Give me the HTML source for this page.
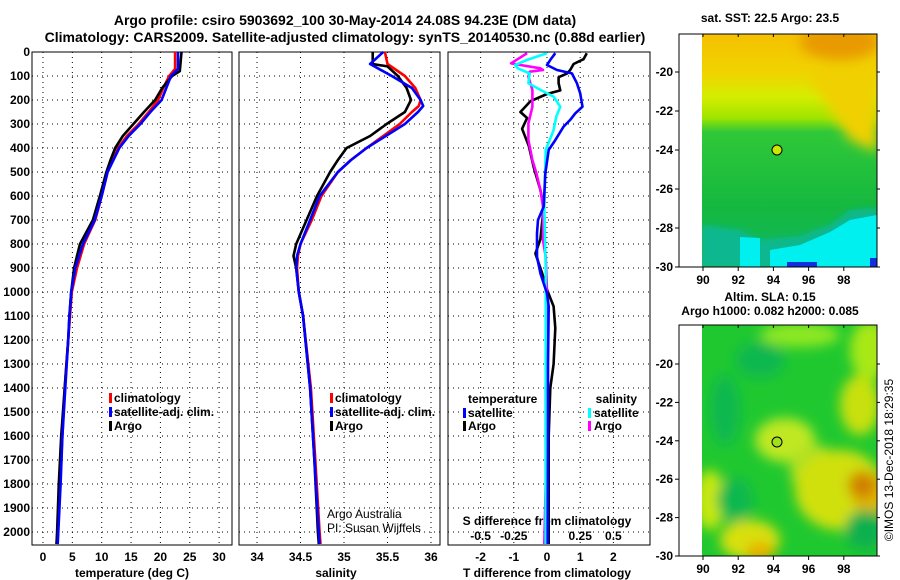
<!DOCTYPE html>
<html><head><meta charset="utf-8"><style>
html,body{margin:0;padding:0;background:#fff;width:900px;height:580px;overflow:hidden;}
svg{display:block;font-family:"Liberation Sans",sans-serif;font-weight:bold;}
</style></head><body>
<svg id="fig" width="900" height="580" viewBox="0 0 900 580">
<defs>
<filter id="blur6" x="-50%" y="-50%" width="200%" height="200%"><feGaussianBlur stdDeviation="6"/></filter>
<filter id="blur3" x="-50%" y="-50%" width="200%" height="200%"><feGaussianBlur stdDeviation="3"/></filter>
<linearGradient id="sstg" x1="0" y1="0" x2="0" y2="1">
<stop offset="0" stop-color="#f5c000"/><stop offset="0.17" stop-color="#f0d400"/><stop offset="0.27" stop-color="#d4ee00"/>
<stop offset="0.36" stop-color="#a0e400"/><stop offset="0.42" stop-color="#30c838"/><stop offset="0.75" stop-color="#14b840"/>
<stop offset="1" stop-color="#10b860"/></linearGradient>
<clipPath id="clip1"><rect x="702" y="34" width="175" height="233"/></clipPath>
<clipPath id="clip2"><rect x="702" y="325" width="175" height="231"/></clipPath>
</defs>
<text x="345" y="25" font-size="14" text-anchor="middle">Argo profile: csiro 5903692_100 30-May-2014 24.08S 94.23E (DM data)</text>
<text x="345" y="42" font-size="14" text-anchor="middle">Climatology: CARS2009. Satellite-adjusted climatology: synTS_20140530.nc (0.88d earlier)</text>
<g id="panels"></g>

<!-- SST map -->
<g>
<text x="770" y="22" font-size="12" text-anchor="middle">sat. SST: 22.5 Argo: 23.5</text>
<g clip-path="url(#clip1)">
<rect x="702" y="34" width="175" height="233" fill="url(#sstg)"/>
<polygon points="820,34 877,34 877,152 850,140 830,110 810,80" fill="#f0d000" filter="url(#blur6)"/>
<ellipse cx="840" cy="42" rx="40" ry="18" fill="#e89a00" filter="url(#blur6)"/>
<polygon points="702,225 740,230 760,240 800,236 830,225 850,210 877,208 877,267 702,267" fill="#10b890" filter="url(#blur3)"/>
<polygon points="740,237 760,238 760,267 740,267" fill="#00f0f0"/>
<polygon points="770,250 800,245 830,232 850,220 877,215 877,267 770,267" fill="#00f0f0"/>
<rect x="787" y="262" width="30" height="5" fill="#1030e0"/>
<rect x="870" y="258" width="7" height="9" fill="#1030e0"/>
</g>
<rect x="679" y="34" width="198" height="233" fill="none" stroke="#000" stroke-width="1"/>
<circle cx="777" cy="150" r="5" fill="#c8e800" stroke="#000"/>
<g id="map1ticks" font-size="12"></g>
</g>

<!-- SLA map -->
<g>
<text x="770" y="301" font-size="12" text-anchor="middle">Altim. SLA: 0.15</text>
<text x="770" y="315" font-size="12" text-anchor="middle">Argo h1000: 0.082 h2000: 0.085</text>
<g clip-path="url(#clip2)">
<rect x="702" y="325" width="175" height="231" fill="#20c830"/>
<g filter="url(#blur6)">
<ellipse cx="800" cy="335" rx="40" ry="12" fill="#90e820"/>
<ellipse cx="870" cy="350" rx="20" ry="30" fill="#a8e818"/>
<ellipse cx="785" cy="440" rx="30" ry="22" fill="#c0e820"/>
<ellipse cx="815" cy="470" rx="25" ry="25" fill="#b0e020"/>
<ellipse cx="840" cy="490" rx="45" ry="40" fill="#d0e010"/>
<ellipse cx="860" cy="405" rx="20" ry="30" fill="#c8e010"/>
<ellipse cx="870" cy="495" rx="18" ry="22" fill="#e0b800"/>
<ellipse cx="862" cy="485" rx="14" ry="14" fill="#d08000"/>
<ellipse cx="710" cy="500" rx="15" ry="30" fill="#c8e810"/>
<ellipse cx="750" cy="540" rx="30" ry="20" fill="#d8e010"/>
<ellipse cx="760" cy="552" rx="14" ry="10" fill="#e8b000"/>
<ellipse cx="725" cy="410" rx="15" ry="35" fill="#10b850"/>
<ellipse cx="760" cy="360" rx="25" ry="18" fill="#10b850"/>
<ellipse cx="735" cy="500" rx="18" ry="22" fill="#10b850"/>
<ellipse cx="865" cy="530" rx="20" ry="20" fill="#10b050"/>
</g>
</g>
<rect x="679" y="325" width="198" height="231" fill="none" stroke="#000" stroke-width="1"/>
<circle cx="777" cy="442" r="5" fill="#a0e020" stroke="#000"/>
<g id="map2ticks" font-size="12"></g>
</g>
<text transform="translate(893,460) rotate(-90)" font-size="12" font-weight="normal" text-anchor="middle">©IMOS 13-Dec-2018 18:29:35</text>
</svg>
<script>
// ---------- data ----------
const tDepthArgo = [0,80,100,150,200,250,300,350,400,450,500,600,700,800,850,900,1000,1100,1200,1400,1600,1800,2000,2050];
const tArgo      = [23.6,23.3,22,20.3,19.1,17.2,15.4,13.6,12.3,11.5,10.8,9.7,8.5,6.3,5.8,5.3,4.8,4.5,4.3,3.7,3.1,2.7,2.4,2.3];
const tDepthClim = [0,70,100,150,200,250,300,350,400,500,600,700,800,900,1000,1100,1200,1400,1600,1800,2000,2050];
const tClim      = [22.5,22.5,21.5,20.5,19.6,18,16.3,14.3,12.8,11,10,8.9,7,5.8,4.9,4.6,4.3,3.7,3.3,2.9,2.5,2.3];
const tSat       = [23,23,21.8,21,20.2,18.3,16.6,14.6,13,11,10,8.8,6.8,5.5,4.8,4.5,4.3,3.8,3.3,3.0,2.6,2.5];
const sDepthArgo = [0,50,60,100,150,200,250,300,350,400,450,500,600,700,800,850,900,1000,1100,1400,1700,2000,2050];
const sArgo      = [35.33,35.33,35.5,35.62,35.72,35.77,35.7,35.49,35.3,35.03,34.93,34.84,34.69,34.57,34.45,34.42,34.45,34.48,34.53,34.61,34.66,34.7,34.71];
const sDepthClim = [0,50,100,150,200,225,250,300,350,400,450,500,600,700,800,850,900,1000,1100,1400,1700,2000,2050];
const sClim      = [35.47,35.5,35.7,35.82,35.88,35.86,35.78,35.64,35.45,35.26,35.08,34.93,34.74,34.63,34.5,34.47,34.46,34.48,34.53,34.62,34.67,34.72,34.73];
const sSat       = [35.45,35.3,35.55,35.78,35.88,35.91,35.85,35.7,35.48,35.26,35.08,34.93,34.72,34.61,34.5,34.46,34.45,34.48,34.53,34.61,34.66,34.71,34.72];
const dDepthArgoT = [5,30,50,75,90,105,130,160,175,205,250,275,320,390,480,575,645,780,840,920,990,1060,1150,1300,1400,1600,1800,2000,2050];
const dTArgo      = [1.2,1.1,0.8,0.7,0.6,0.35,0.35,0.4,0,-0.5,-0.8,-0.6,-0.75,-0.55,-0.4,-0.2,-0.1,-0.2,-0.35,-0.15,0,0.2,0.25,0.2,0.1,0.05,0.05,0.05,0.05];
const dDepthSatT  = [5,33,54,75,89,130,172,228,256,283,311,367,408,506,644,700,756,853,922,1006,1061,1300,1600,2000,2050];
const dTSat       = [0.25,0.1,0,0.3,0.75,0.9,1.0,1.07,0.85,0.7,0.5,0.25,0.05,-0.05,-0.1,-0.27,-0.3,-0.3,-0.2,0,0.05,0.03,0.03,0.02,0.02];
const dDepthSatS  = [5,33,54,68,89,130,158,186,228,269,325,367,408,644,900,1300,1700,2050];
const dSSat       = [0,-0.15,-0.24,-0.22,-0.13,-0.14,-0.05,0.05,0.1,0.07,0.05,0.02,-0.01,-0.02,-0.01,-0.01,-0.01,-0.01];
const dDepthArgoS = [5,47,54,68,75,82,103,158,228,297,367,450,506,575,644,783,853,1000,1400,1800,2050];
const dSArgo      = [-0.15,-0.27,-0.2,-0.05,-0.03,-0.13,-0.14,-0.11,-0.11,-0.14,-0.14,-0.11,-0.08,-0.05,-0.03,-0.03,-0.01,0,-0.01,-0.01,-0.02];
const depthTicks = [0,100,200,300,400,500,600,700,800,900,1000,1100,1200,1300,1400,1500,1600,1700,1800,1900,2000];
const tempTicks = [0,5,10,15,20,25,30];
const salTicks = ['34','34.5','35','35.5','36'];
const dTTicks = [-2,-1,0,1,2];
const dSTickLabels = ['-0.5','-0.25','0','0.25','0.5'];
const dSTicks = [-0.5,-0.25,0,0.25,0.5];
const lonTicks = [90,92,94,96,98];
const lat1Ticks = [-20,-22,-24,-26,-28,-30];

// ---------- axes ----------
const TOP=52, BOT=545;
const yD = d => TOP + d*0.24;
const xT = t => 43 + t*5.87;
const xS = s => 257 + (s-34)*87;
const xdT = v => 547 + v*33.2;
const xdS = v => 547 + v*132.8;
const NS='http://www.w3.org/2000/svg';
const panels=document.getElementById('panels');
function el(tag, attrs, parent){const e=document.createElementNS(NS,tag);for(const k in attrs)e.setAttribute(k,attrs[k]);(parent||panels).appendChild(e);return e;}
function txt(x,y,s,size,anchor,parent){const e=el('text',{x:x,y:y,'font-size':size,'text-anchor':anchor||'middle'},parent);e.textContent=s;return e;}

const frames=[[32,232],[239,440],[448,650]];
const vgrids=[tempTicks.map(xT), salTicks.map(s=>xS(+s)), dTTicks.map(xdT)];
frames.forEach((f,i)=>{
  const g=el('g',{});
  
  
  depthTicks.forEach(d=>{ if(d>0) el('line',{x1:f[0],x2:f[1],y1:yD(d),y2:yD(d),stroke:'#000','stroke-width':1,'stroke-dasharray':'1,4'},g); });
  vgrids[i].forEach(x=>{ el('line',{x1:x,x2:x,y1:TOP,y2:BOT,stroke:'#000','stroke-width':1,'stroke-dasharray':'1,4'},g); });
  el('rect',{x:f[0],y:TOP,width:f[1]-f[0],height:BOT-TOP,fill:'none',stroke:'#000','stroke-width':1},g);
});
depthTicks.forEach(d=>{
  const t=txt(30,yD(d)+4,String(d),12,'end');
  
  
});
tempTicks.forEach(v=>{const t=txt(xT(v),561,String(v),12);
  
  });
salTicks.forEach(v=>{const t=txt(xS(+v),561,v,12);
  
  });
dTTicks.forEach(v=>{const t=txt(xdT(v),561,String(v),12);
  
  });
dSTicks.forEach((v,i)=>{const t=txt(xdS(v),540,dSTickLabels[i],12);
  
  });
let a;
a=txt(132,577,'temperature (deg C)',12);


a=txt(336,577,'salinity',12);


a=txt(547,577,'T difference from climatology',12);


a=txt(547,525,'S difference from climatology',12);


a=el('text',{x:327,y:518,'font-size':12,'font-weight':'normal'});a.textContent='Argo Australia';


a=el('text',{x:327,y:532,'font-size':12,'font-weight':'normal'});a.textContent='PI: Susan Wijffels';



function line(depths, vals, xf, color, name){
  const pts=depths.map((d,i)=>xf(vals[i]).toFixed(1)+','+yD(d).toFixed(1)).join(' ');
  const p=el('polyline',{points:pts,fill:'none',stroke:color,'stroke-width':2.6,'stroke-linejoin':'round'});
  
  
}
line(tDepthClim,tClim,xT,'#ff0000','temp-climatology-line');
line(tDepthArgo,tArgo,xT,'#000000','temp-argo-line');
line(tDepthClim,tSat,xT,'#0000ff','temp-satellite-line');
line(sDepthClim,sClim,xS,'#ff0000','sal-climatology-line');
line(sDepthArgo,sArgo,xS,'#000000','sal-argo-line');
line(sDepthClim,sSat,xS,'#0000ff','sal-satellite-line');
line(dDepthArgoT,dTArgo,xdT,'#000000','tdiff-argo-line');
line(dDepthArgoS,dSArgo,xdS,'#ff00ff','sdiff-argo-line');
line(dDepthSatS,dSSat,xdS,'#00ffff','sdiff-satellite-line');
line(dDepthSatT,dTSat,xdT,'#0000ff','tdiff-satellite-line');

function legend(x,y,color,label){
  const m=el('rect',{x:x-5,y:y-9,width:3,height:10,fill:color});
  
  
  const t=el('text',{x:x,y:y,'font-size':12,'text-anchor':'start'});
  t.textContent=label;
  
  
}
legend(114,402,'#ff0000','climatology');
legend(114,416,'#0000ff','satellite-adj. clim.');
legend(114,430,'#000000','Argo');
legend(335,402,'#ff0000','climatology');
legend(335,416,'#0000ff','satellite-adj. clim.');
legend(335,430,'#000000','Argo');
a=txt(468,403,'temperature',12,'start');


a=txt(637,403,'salinity',12,'end');


legend(468,417,'#0000ff','satellite');
legend(468,430,'#000000','Argo');
{const m=el('rect',{x:588,y:408,width:3,height:10,fill:'#00ffff'});
 const t=txt(594,417,'satellite',12,'start');
 const m2=el('rect',{x:588,y:421,width:3,height:10,fill:'#ff00ff'});
 const t2=txt(594,430,'Argo',12,'start');}

function mapTicks(gid, y0, y1, latY){
  const g=document.getElementById(gid);
  lonTicks.forEach(v=>{const x=703+(v-90)*17.6;
    el('line',{x1:x,x2:x,y1:y1,y2:y1+4,stroke:'#000'},g);
    el('line',{x1:x,x2:x,y1:y0,y2:y0+3,stroke:'#000'},g);
    const t=txt(x,y1+17,String(v),12,'middle',g);
    
    });
  lat1Ticks.forEach(v=>{const y=latY(v);
    el('line',{x1:675,x2:679,y1:y,y2:y,stroke:'#000'},g);
    el('line',{x1:877,x2:880,y1:y,y2:y,stroke:'#000'},g);
    const t=txt(673,y+4,String(v),12,'end',g);
    
    });
}
mapTicks('map1ticks',34,267,v=>267-(v+30)*19.5);
mapTicks('map2ticks',325,556,v=>556-(v+30)*19.2);
</script>
</body></html>
